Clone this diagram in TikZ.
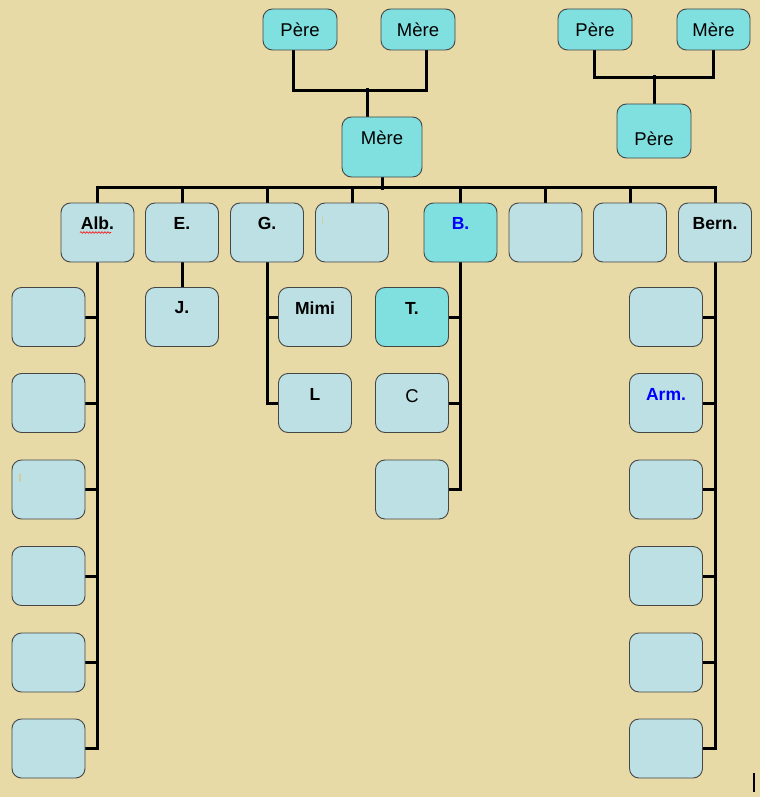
\documentclass[tikz,border=0pt]{standalone}
\usepackage{fontspec}
\setmainfont{Liberation Sans}
\usetikzlibrary{decorations.pathmorphing}
\definecolor{bg}{RGB}{232,218,166}
\definecolor{cyanbox}{RGB}{127,224,223}
\definecolor{paleblue}{RGB}{188,224,228}
\definecolor{edge}{RGB}{70,70,70}
\definecolor{bluetext}{RGB}{0,0,255}
\definecolor{cursorpale}{RGB}{210,205,150}
\pgfdeclarelayer{backlayer}
\pgfsetlayers{backlayer,main}
\tikzset{
  boxbase/.style={draw=edge, line width=0.9pt, rounded corners=9.5pt, inner sep=0pt},
  topbox/.style={boxbase, fill=cyanbox, minimum width=74pt, minimum height=41pt},
  kidbox/.style={boxbase, fill=paleblue, minimum width=73pt, minimum height=59pt},
  hilite/.style={fill=cyanbox},
  conn/.style={line width=3pt, line cap=rect, black},
  lbl/.style={font=\fontsize{18.5}{20}\selectfont, inner sep=0pt},
  blbl/.style={font=\fontsize{17.5}{20}\selectfont\bfseries, inner sep=0pt},
}
\begin{document}
\begin{tikzpicture}[x=1pt,y=-1pt]
\begin{pgfonlayer}{backlayer}
\fill[bg] (0,0) rectangle (760,797);
\end{pgfonlayer}
\useasboundingbox (0,0) rectangle (760,797);

% top generation
\node[topbox] (p1) at (300,29.5) {};
\node[topbox] (m1) at (418,29.5) {};
\node[topbox] (p2) at (595,29.5) {};
\node[topbox, minimum width=73pt] (m2) at (713.5,29.5) {};
\node[topbox, minimum width=80pt, minimum height=60pt] (mm) at (382,147) {};
\node[topbox, minimum height=54pt] (pr) at (654,131) {};

% row 1
\node[kidbox] (alb) at (97.5,232.5) {};
\node[kidbox] (e) at (182,232.5) {};
\node[kidbox] (g) at (267,232.5) {};
\node[kidbox] (x4) at (352,232.5) {};
\node[kidbox, hilite] (b) at (460.5,232.5) {};
\node[kidbox] (x6) at (545.5,232.5) {};
\node[kidbox] (x7) at (630,232.5) {};
\node[kidbox] (bern) at (715,232.5) {};

% Alb column
\node[kidbox] (a1) at (48.5,317) {};
\node[kidbox] (a2) at (48.5,403) {};
\node[kidbox] (a3) at (48.5,489.5) {};
\node[kidbox] (a4) at (48.5,576) {};
\node[kidbox] (a5) at (48.5,662.5) {};
\node[kidbox] (a6) at (48.5,748.5) {};
% E column
\node[kidbox] (j) at (182,317) {};
% G column
\node[kidbox] (mimi) at (315,317) {};
\node[kidbox] (l) at (315,403) {};
% B column
\node[kidbox, hilite] (t) at (412,317) {};
\node[kidbox] (c) at (412,403) {};
\node[kidbox] (b3) at (412,489.5) {};
% Bern column
\node[kidbox] (r1) at (666,317) {};
\node[kidbox] (r2) at (666,403) {};
\node[kidbox] (r3) at (666,489.5) {};
\node[kidbox] (r4) at (666,576) {};
\node[kidbox] (r5) at (666,662.5) {};
\node[kidbox] (r6) at (666,748.5) {};

% connectors (behind boxes)
\begin{pgfonlayer}{backlayer}
\draw[conn] ([xshift=-7pt]p1.south) -- ++(0,40) -| ([xshift=8pt]m1.south);
\draw[conn] ([xshift=-15pt]mm.north) -- ++(0,-27);
\draw[conn] ([xshift=-1pt]p2.south) -- ++(0,27) -| ([xshift=-0.5pt]m2.south);
\draw[conn] (pr.north) -- ++(0,-27);

\draw[conn] (mm.south) -- ++(0,11);
\draw[conn] (alb.north) -- ++(0,-15) -| (bern.north);
\foreach \n in {e,g,x4,b,x6,x7}{\draw[conn] (\n.north) -- ++(0,-15);}

\draw[conn] (alb.south) -- (alb.south |- a6.east);
\foreach \n in {a1,a2,a3,a4,a5,a6}{\draw[conn] (\n.east) -- (\n.east -| alb.south);}
\draw[conn] (e.south) -- (j.north);
\draw[conn] (g.south) -- (g.south |- l.west);
\foreach \n in {mimi,l}{\draw[conn] (\n.west) -- (\n.west -| g.south);}
\draw[conn] (b.south) -- (b.south |- b3.east);
\foreach \n in {t,c,b3}{\draw[conn] (\n.east) -- (\n.east -| b.south);}
\draw[conn] (bern.south) -- (bern.south |- r6.east);
\foreach \n in {r1,r2,r3,r4,r5,r6}{\draw[conn] (\n.east) -- (\n.east -| bern.south);}
\end{pgfonlayer}

% labels
\node[lbl] at (p1.center) {Père};
\node[lbl] at (m1.center) {Mère};
\node[lbl] at (p2.center) {Père};
\node[lbl] at (m2.center) {Mère};
\node[lbl] at ([yshift=-21pt]mm.north) {Mère};
\node[lbl] at ([yshift=-35pt]pr.north) {Père};

\node[blbl] at ([yshift=-21pt]alb.north) {Alb.};
\node[blbl] at ([yshift=-21pt]e.north) {E.};
\node[blbl] at ([yshift=-21pt]g.north) {G.};
\node[blbl, text=bluetext] at ([yshift=-21pt]b.north) {B.};
\node[blbl] at ([yshift=-21pt]bern.north) {Bern.};
\node[blbl] at ([yshift=-21pt]j.north) {J.};
\node[blbl] at ([yshift=-21pt]mimi.north) {Mimi};
\node[blbl] at ([yshift=-21pt]l.north) {L};
\node[blbl] at ([yshift=-21pt]t.north) {T.};
\node[lbl] at ([yshift=-23pt]c.north) {C};
\node[blbl, text=bluetext] at ([yshift=-21pt]r2.north) {Arm.};

% small marks
\draw[red, line width=0.6pt, decorate, decoration={snake, amplitude=0.8pt, segment length=3pt}] (80,232.5) -- (111,232.5);
\draw[cursorpale, line width=1pt] (322,217) -- (322,224);
\draw[cursorpale, line width=1.2pt] (20,474) -- (20,482);
\draw[black, line width=2pt] (754,773) -- (754,792);
\end{tikzpicture}
\end{document}
